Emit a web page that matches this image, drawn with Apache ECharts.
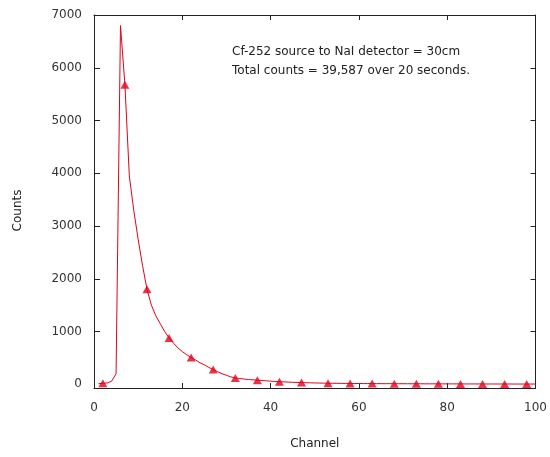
<!DOCTYPE html>
<html>
<head>
<meta charset="utf-8">
<script src="https://cdn.jsdelivr.net/npm/echarts@6/dist/echarts.min.js"></script>
<style>
html,body{margin:0;padding:0;background:#fff;}
#chart{width:550px;height:457px;}
</style>
</head>
<body>
<div id="chart"></div>
<script>
// Channel numbers 1..100
const channels = [
  1,2,3,4,5,6,7,8,9,10,11,12,13,14,15,16,17,18,19,20,
  21,22,23,24,25,26,27,28,29,30,31,32,33,34,35,36,37,38,39,40,
  41,42,43,44,45,46,47,48,49,50,51,52,53,54,55,56,57,58,59,60,
  61,62,63,64,65,66,67,68,69,70,71,72,73,74,75,76,77,78,79,80,
  81,82,83,84,85,86,87,88,89,90,91,92,93,94,95,96,97,98,99,100
];
// Counts per channel
const counts = [
  10,20,25,60,200,6800,5680,3950,3300,2750,2250,1800,1500,1300,1150,1000,880,780,690,620,
  560,510,460,410,370,320,280,240,200,170,140,120,110,100,90,85,78,72,66,60,
  55,50,46,42,38,35,32,30,28,26,24,22,21,20,19,18,17,16,15,15,
  14,14,13,13,12,12,12,11,11,11,10,10,10,10,9,9,9,9,8,8,
  8,8,8,7,7,7,7,7,6,6,6,6,6,6,5,5,5,5,5,5
];
// Channels carrying a triangle marker
const markerChannels = [2,7,12,17,22,27,32,37,42,47,53,58,63,68,73,78,83,88,93,98];
const xTicks = [0,20,40,60,80,100];
const yTicks = [0,1000,2000,3000,4000,5000,6000,7000];
const noteLines = ['Cf-252 source to NaI detector = 30cm', 'Total counts = 39,587 over 20 seconds.'];

const lineData = channels.map((c, i) => [c, counts[i]]);
const markerData = markerChannels.map(c => [c, counts[channels.indexOf(c)]]);

const font = 'DejaVu Sans';
const axisColor = '#222';
const red = '#e3001b';
const plain = v => String(v);

const chart = echarts.init(document.getElementById('chart'), null, {renderer: 'canvas'});
chart.setOption({
  backgroundColor: '#fff',
  animation: false,
  grid: {left: 94, right: 13, top: 15, bottom: 69},
  graphic: [{
    type: 'text', left: 232, top: 42,
    style: {text: noteLines.join('\n'), font: '12px "DejaVu Sans"', fill: '#222', lineHeight: 19}
  }],
  xAxis: [{
    type: 'value', min: 0, max: 100, interval: 20,
    name: 'Channel', nameLocation: 'middle', nameGap: 50,
    nameTextStyle: {fontFamily: font, fontSize: 12, color: '#222'},
    axisLine: {show: true, onZero: false, lineStyle: {color: axisColor, width: 1}},
    axisTick: {show: true, inside: true, length: 5, customValues: xTicks.slice(1, -1), lineStyle: {color: axisColor}},
    axisLabel: {fontFamily: font, fontSize: 12, color: '#333', margin: 14, formatter: plain},
    splitLine: {show: false}
  }, {
    type: 'value', position: 'top', min: 0, max: 100, interval: 20,
    axisLine: {show: true, onZero: false, lineStyle: {color: axisColor, width: 1}},
    axisTick: {show: true, inside: true, length: 5, customValues: xTicks.slice(1, -1), lineStyle: {color: axisColor}},
    axisLabel: {show: false},
    splitLine: {show: false}
  }],
  yAxis: [{
    type: 'value', min: -70, max: 7000,
    name: 'Counts', nameLocation: 'middle', nameGap: 70,
    nameTextStyle: {fontFamily: font, fontSize: 12, color: '#222', padding: [0, 18, 0, 0]},
    axisLine: {show: true, onZero: false, lineStyle: {color: axisColor, width: 1}},
    axisTick: {show: true, inside: true, length: 6, customValues: yTicks.slice(1, -1), lineStyle: {color: axisColor}},
    axisLabel: {fontFamily: font, fontSize: 12, color: '#333', margin: 12, customValues: yTicks, formatter: plain},
    splitLine: {show: false}
  }, {
    type: 'value', position: 'right', min: -70, max: 7000,
    axisLine: {show: true, onZero: false, lineStyle: {color: axisColor, width: 1}},
    axisTick: {show: true, inside: true, length: 5, customValues: yTicks.slice(1, -1), lineStyle: {color: axisColor}},
    axisLabel: {show: false},
    splitLine: {show: false}
  }],
  series: [{
    type: 'line', data: lineData, showSymbol: false, symbol: 'none',
    lineStyle: {color: red, width: 1}, z: 2
  }, {
    type: 'scatter', data: markerData, symbol: 'triangle', symbolSize: [9, 8],
    itemStyle: {color: red}, z: 3
  }]
});
</script>
</body>
</html>
